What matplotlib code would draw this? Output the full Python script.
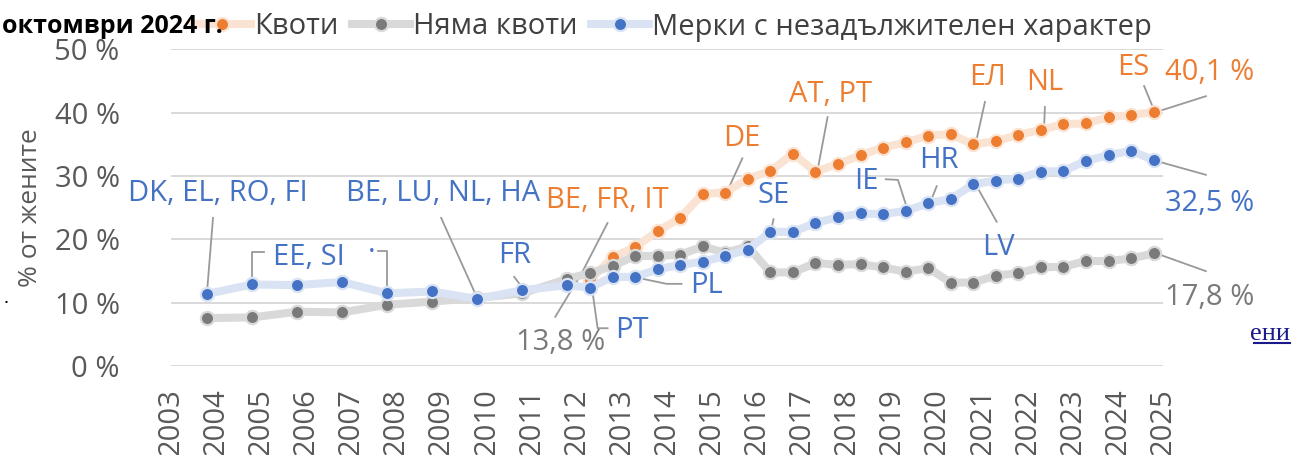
import matplotlib
matplotlib.use("Agg")
import matplotlib.pyplot as plt
from matplotlib.lines import Line2D

plt.rcParams['font.family'] = ['Open Sans', 'DejaVu Sans']

# survey dates (month of the EU database snapshot)
dates = ["2003-10", "2004-10", "2005-10", "2006-10", "2007-10", "2008-10",
         "2009-10", "2010-10", "2011-10",
         "2012-04", "2012-10", "2013-04", "2013-10", "2014-04", "2014-10",
         "2015-04", "2015-10", "2016-04", "2016-10", "2017-04", "2017-10",
         "2018-04", "2018-10", "2019-04", "2019-10", "2020-04", "2020-10",
         "2021-04", "2021-10", "2022-04", "2022-10", "2023-04", "2023-10",
         "2024-04", "2024-10"]

# % women on boards
quotas = [13.6, 17.2, 18.8, 21.3, 23.4, 27.2, 27.4, 29.6, 30.8, 33.5, 30.7,
          31.9, 33.3, 34.5, 35.3, 36.4, 36.6, 35.0, 35.5, 36.5, 37.3, 38.2,
          38.3, 39.3, 39.6, 40.1]          # from 2012-04
no_quotas = [7.6, 7.7, 8.6, 8.5, 9.7, 10.2, 10.8, 11.5, 13.8, 14.7, 15.8,
             17.4, 17.4, 17.6, 18.9, 17.9, 18.9, 14.8, 14.8, 16.3, 16.0, 16.1,
             15.6, 14.9, 15.5, 13.2, 13.2, 14.3, 14.7, 15.6, 15.7, 16.6, 16.6,
             17.0, 17.8]
soft = [11.4, 12.9, 12.8, 13.3, 11.5, 11.8, 10.6, 12.0, 12.8, 12.4, 14.1,
        14.1, 15.3, 16.0, 16.5, 17.4, 18.4, 21.2, 21.2, 22.6, 23.5, 24.1,
        24.0, 24.5, 25.7, 26.4, 28.7, 29.3, 29.6, 30.7, 30.8, 32.4, 33.3,
        34.0, 32.5]

names = ["Квоти", "Няма квоти", "Мерки с незадължителен характер"]
years = list(range(2003, 2026))


def to_x(d):
    y, m = d.split("-")
    return int(y) + (int(m) - 0.5) / 12


x_all = [to_x(d) for d in dates]
x_q = x_all[len(x_all) - len(quotas):]

ORANGE, ORANGE_L = "#ED7D31", "#FBE3D3"
GRAY, GRAY_L = "#7A7A7A", "#D9D9D9"
BLUE, BLUE_L = "#4472C4", "#DAE3F3"
TXT = "#595959"
LEAD = "#999999"
FS = 21

fig = plt.figure(figsize=(12.93, 4.55), dpi=100)
ax = fig.add_axes([0.1323, 0.195, 0.7672, 0.6967])

for xs, ys, lc, dc, nm in [(x_q, quotas, ORANGE_L, ORANGE, names[0]),
                           (x_all, no_quotas, GRAY_L, GRAY, names[1]),
                           (x_all, soft, BLUE_L, BLUE, names[2])]:
    ax.plot(xs, ys, color=lc, lw=5.8, marker="o", ms=9.5, mfc=dc, mec=lc,
            mew=1.6, label=nm, solid_joinstyle="round", clip_on=False)

ax.set_xlim(2003, 2025)
ax.set_ylim(0, 50)
ax.set_yticks(range(0, 51, 10))
ax.set_yticklabels([f"{v} %" for v in range(0, 51, 10)])
ax.set_xticks(years)
ax.set_xticklabels([str(y) for y in years], rotation=90, va="top")
ax.tick_params(axis="y", length=0, pad=37, labelsize=FS, labelcolor=TXT)
ax.tick_params(axis="x", length=0, pad=16, labelsize=FS, labelcolor=TXT)
ax.yaxis.grid(True, color="#D9D9D9", lw=1.4)
ax.set_axisbelow(True)
for s in ax.spines.values():
    s.set_visible(False)


def note(text, pos, path, color):
    ax.plot([p[0] for p in path], [p[1] for p in path], color=LEAD, lw=1.3,
            clip_on=False, zorder=1)
    ax.text(pos[0], pos[1], text, ha="center", va="center", fontsize=FS,
            color=color, clip_on=False)


# country labels (blue = soft measures)
note("DK, EL, RO, FI", (2004.04, 27.3), [(2003.93, 23.4), (2003.80, 11.9)], BLUE)
note("EE, SI", (2006.06, 17.2), [(2005.06, 18.0), (2004.80, 18.0), (2004.80, 13.9)], BLUE)
note("·", (2007.44, 17.9), [(2007.59, 18.2), (2007.79, 18.2), (2007.79, 12.4)], BLUE)
note("BE, LU, NL, HA", (2009.04, 27.3), [(2008.99, 23.4), (2009.75, 11.4)], BLUE)
note("FR", (2010.61, 17.4), [(2010.61, 14.1), (2010.77, 12.6)], BLUE)
note("PT", (2013.23, 5.6), [(2012.35, 11.6), (2012.46, 6.0), (2012.68, 6.0)], BLUE)
note("PL", (2014.88, 12.8), [(2013.32, 14.0), (2013.99, 13.0), (2014.32, 13.0)], BLUE)
note("SE", (2016.36, 27.0), [(2016.36, 23.2), (2016.32, 21.8)], BLUE)
note("IE", (2018.41, 29.1), [(2018.85, 29.5), (2019.12, 29.4), (2019.32, 25.0)], BLUE)
note("HR", (2020.03, 32.5), [(2019.98, 28.4), (2019.85, 26.1)], BLUE)
note("LV", (2021.34, 18.7), [(2021.31, 22.8), (2020.89, 28.1)], BLUE)
note("32,5 %", (2026.04, 25.6), [(2025.95, 30.2), (2024.89, 32.3)], BLUE)

# orange = quotas
note("BE, FR, IT", (2012.68, 26.1), [(2012.68, 22.6), (2012.10, 14.6)], ORANGE)
note("DE", (2015.65, 36.0), [(2015.67, 32.8), (2015.34, 27.7)], ORANGE)
note("AT, PT", (2017.63, 42.9), [(2017.56, 39.3), (2017.34, 31.0)], ORANGE)
note("ЕЛ", (2021.11, 45.5), [(2021.05, 41.7), (2020.85, 35.3)], ORANGE)
note("NL", (2022.38, 44.7), [(2022.38, 40.9), (2022.36, 37.5)], ORANGE)
note("ES", (2024.35, 47.2), [(2024.58, 44.2), (2024.80, 40.4)], ORANGE)
note("40,1 %", (2026.04, 46.3), [(2025.95, 42.6), (2024.89, 40.2)], ORANGE)

# gray = no quotas
note("13,8 %", (2011.63, 3.7), [(2011.52, 7.8), (2012.10, 14.6)], GRAY)
note("17,8 %", (2026.04, 10.9), [(2025.95, 15.0), (2024.89, 17.7)], GRAY)

fig.text(31 / 1293, 1 - 208 / 455, "% от жените", rotation=90, ha="center",
         va="center", fontsize=19, color=TXT)
fig.text(2 / 1293, 1 - 33 / 455, "октомври 2024 г.", fontsize=18,
         fontweight="bold", color="black", ha="left", va="baseline")
fig.text(4 / 1293, 1 - 303 / 455, ".", fontsize=14, color="black")

# clipped hyperlink fragment on the right
fig.text(1290 / 1293, 1 - 340 / 455, "ени", family=["Liberation Serif"],
         fontsize=19, color="#1A1A8C", ha="right", va="baseline")
fig.add_artist(Line2D([1254 / 1293, 1290 / 1293], [1 - 343 / 455] * 2,
                      color="#1A1A8C", lw=1.5))

leg = ax.legend(loc="center left", bbox_to_anchor=(193 / 1293, 1 - 27 / 455),
                bbox_transform=fig.transFigure, ncol=3, frameon=False,
                fontsize=FS, handlelength=2.0, handletextpad=0.1,
                columnspacing=0.45, borderpad=0, borderaxespad=0)
for t in leg.get_texts():
    t.set_color("#404040")
leg.set_zorder(5)

fig.savefig("out.png", dpi=100)
